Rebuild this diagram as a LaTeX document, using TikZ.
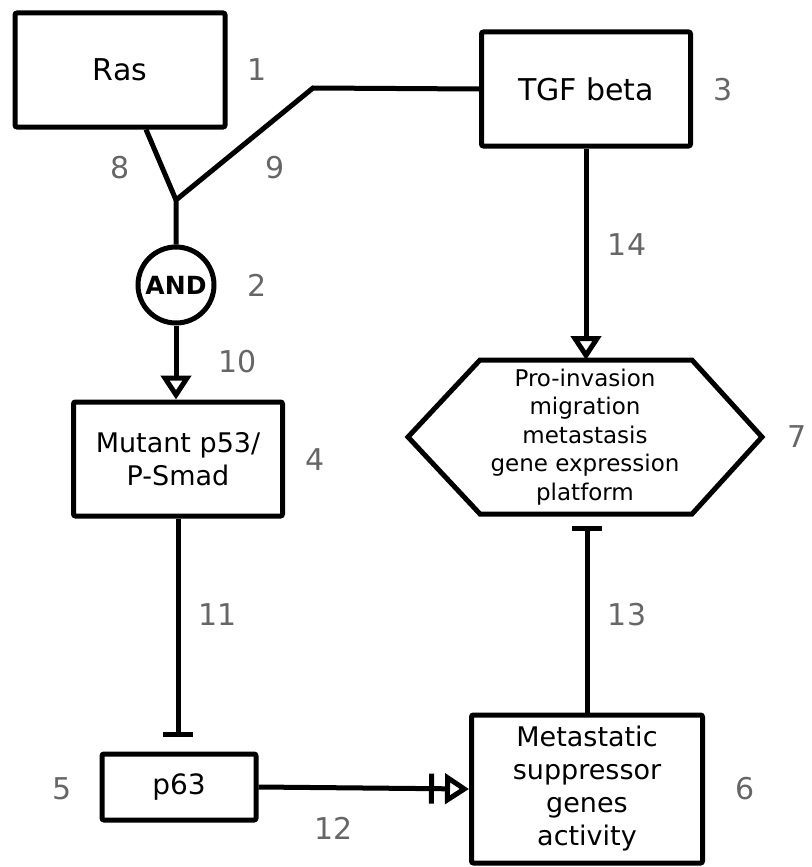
\documentclass[tikz,border=0pt]{standalone}
\usepackage{fontspec}
\setmainfont{DejaVu Sans}
\usetikzlibrary{arrows.meta, calc}
\definecolor{labelgray}{RGB}{102,102,102}

\tikzset{
  genebox/.style={draw, rounded corners=2pt, align=center, inner sep=0pt},
  numlabel/.style={text=labelgray, font=\fontsize{30}{30}\selectfont},
  activates/.style={-{Triangle[open, length=24pt, width=30pt]}},
  inhibits/.style={-{Bar[width=30pt]}},
}

\begin{document}
\begin{tikzpicture}[x=1pt, y=-1pt, line width=5pt]
  \useasboundingbox (0,0) rectangle (811,867);

  % genes and states
  \node[genebox, minimum width=210pt, minimum height=114pt, font=\fontsize{30}{36}\selectfont] (ras) at (120,70) {Ras};
  \node[genebox, minimum width=209pt, minimum height=114pt, font=\fontsize{30}{36}\selectfont] (tgf) at (586,89) {TGF beta};
  \node[draw, circle, minimum size=76pt, inner sep=0pt, font=\bfseries\fontsize{25}{25}\selectfont] (andgate) at (176,285) {AND};
  \node[genebox, minimum width=209pt, minimum height=114pt, font=\fontsize{27}{33}\selectfont] (mutant) at (178,459) {Mutant p53/\\P-Smad};
  \node[genebox, minimum width=154pt, minimum height=66pt, font=\fontsize{28}{33}\selectfont] (p63) at (179,787) {p63};
  \node[genebox, minimum width=231pt, minimum height=148pt, font=\fontsize{27}{33}\selectfont] (suppressor) at (587,789) {Metastatic\\suppressor\\genes\\activity};
  \node[align=center, font=\fontsize{23}{28.5}\selectfont] (platform) at (585,437) {Pro-invasion\\migration\\metastasis\\gene expression\\platform};
  \draw ($(platform)+(-177,0)$) -- ($(platform)+(-105,-77)$) -- ($(platform)+(107,-77)$)
    -- ($(platform)+(177,0)$) -- ($(platform)+(107,77)$) -- ($(platform)+(-105,77)$) -- cycle;
  \coordinate (hextop) at ($(platform)+(0,-77)$);
  \coordinate (hexbot) at ($(platform)+(0,77)$);

  % connectors
  \coordinate (join) at (176,200);
  \coordinate (bend) at (313,88);
  \draw ($(ras.south)+(26,0)$) -- (join);
  \draw (tgf.west) -- (bend) -- (join) -- (andgate.north);
  \draw[activates] (andgate.south) -- (andgate.south |- mutant.north);
  \draw[activates] (tgf.south) -- (tgf.south |- hextop);
  \draw[inhibits, shorten >=15pt] (mutant.south) -- (mutant.south |- p63.north);
  \draw[-{Bar[width=30pt, sep=11pt] Triangle[open, length=24pt, width=30pt]}] (p63.east) -- (suppressor.west);
  \draw[inhibits, shorten >=12pt] (suppressor.north) -- (suppressor.north |- hexbot);

  % numbers
  \node[numlabel] (n1) at (257,70) {1};
  \node[numlabel] (n2) at (257,285) {2};
  \node[numlabel] (n3) at (723,90) {3};
  \node[numlabel] (n4) at (315,460) {4};
  \node[numlabel] (n5) at (62,789) {5};
  \node[numlabel] (n6) at (745,789) {6};
  \node[numlabel] (n7) at (797,437) {7};
  \node[numlabel] (n8) at (120,168) {8};
  \node[numlabel] (n9) at (275,168) {9};
  \node[numlabel] (n10) at (238,362) {10};
  \node[numlabel] (n11) at (218,615) {11};
  \node[numlabel] (n12) at (334,828) {12};
  \node[numlabel] (n13) at (627,615) {13};
  \node[numlabel] (n14) at (627,245) {14};
\end{tikzpicture}
\end{document}
